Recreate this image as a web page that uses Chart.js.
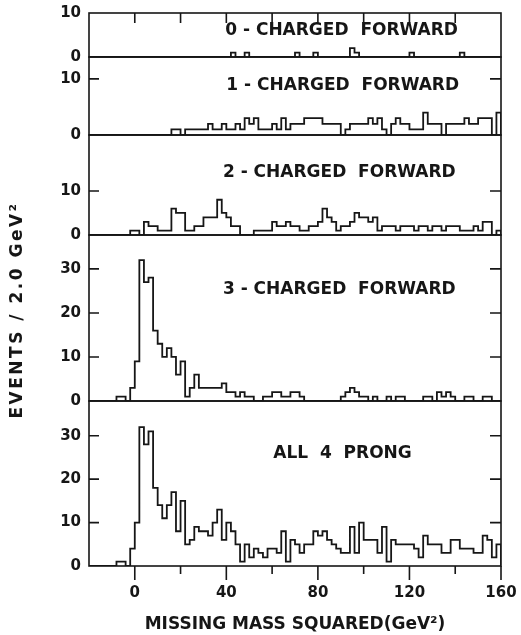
<!DOCTYPE html>
<html>
<head>
<meta charset="utf-8">
<script src="https://cdn.jsdelivr.net/npm/chart.js@4.4.0/dist/chart.umd.min.js"></script>
<style>
html,body{margin:0;padding:0;background:#fff;}
#wrap{width:521px;height:635px;position:relative;}
</style>
</head>
<body>
<div id="wrap"><canvas id="c" width="521" height="635"></canvas></div>
<script>
// ---- data (events per 2.0 GeV^2 bin, bins start at -20 GeV^2) ----
const firstBinEdge = -20;
const binWidth = 2;
const xTickLabels = [0, 40, 80, 120, 160];
const xTitle = "MISSING MASS SQUARED(GeV\u00B2)";
const yTitle = "EVENTS / 2.0 GeV\u00B2";
const panelNames = ["0 - CHARGED  FORWARD", "1 - CHARGED  FORWARD", "2 - CHARGED  FORWARD", "3 - CHARGED  FORWARD", "ALL  4  PRONG"];

const yTicks0 = [0, 10];
const yTicks1 = [0, 10];
const yTicks2 = [0, 10];
const yTicks3 = [0, 10, 20, 30];
const yTicks4 = [0, 10, 20, 30];

const charged0 = [
  0,0,0,0,0,0,0,0,0,0,
  0,0,0,0,0,0,0,0,0,0,
  0,0,0,0,0,0,0,0,0,0,
  0,1,0,0,1,0,0,0,0,0,
  0,0,0,0,0,1,0,0,0,1,
  0,0,0,0,0,0,0,2,1,0,
  0,0,0,0,0,0,0,0,0,0,
  1,0,0,0,0,0,0,0,0,0,
  0,1,0,0,0,0,0,0,0,0
];
const charged1 = [
  0,0,0,0,0,0,0,0,0,0,
  0,0,0,0,0,0,0,0,1,1,
  0,1,1,1,1,1,2,1,1,2,
  1,1,2,1,3,2,3,1,1,1,
  2,1,3,1,2,2,2,3,3,3,
  3,2,2,2,2,0,1,2,2,2,
  2,3,2,3,1,0,2,3,2,2,
  1,1,1,4,2,2,2,0,2,2,
  2,2,3,2,2,3,3,3,0,4
];
const charged2 = [
  0,0,0,0,0,0,0,0,0,1,
  1,0,3,2,2,1,1,1,6,5,
  5,1,1,2,2,4,4,4,8,5,
  4,2,2,0,0,0,1,1,1,1,
  3,2,2,3,2,2,1,1,2,2,
  3,6,4,3,1,2,2,3,5,4,
  4,3,4,1,2,2,2,1,2,2,
  2,1,2,2,1,2,2,1,2,2,
  2,1,1,1,2,1,3,3,0,1
];
const charged3 = [
  0,0,0,0,0,0,1,1,0,3,
  9,32,27,28,16,13,10,12,10,6,
  9,1,3,6,3,3,3,3,3,4,
  2,2,1,2,1,1,0,0,1,1,
  2,2,1,1,2,2,1,0,0,0,
  0,0,0,0,0,1,2,3,2,1,
  1,0,1,0,0,1,0,1,1,0,
  0,0,0,1,1,0,2,1,2,1,
  0,0,1,1,0,0,1,1,0,0
];
const allFourProng = [
  0,0,0,0,0,0,1,1,0,4,
  10,32,28,31,18,14,11,14,17,8,
  15,5,6,9,8,8,7,10,13,6,
  10,8,5,1,5,2,4,3,2,4,
  4,3,8,1,6,5,3,5,5,8,
  7,8,6,5,4,3,3,9,3,10,
  6,6,6,3,9,1,6,5,5,5,
  5,4,2,7,5,5,5,3,3,6,
  6,4,4,4,3,3,7,6,2,5
];

// ---- layout / style ----
const INK = '#161616';
const FONT = 'DejaVu Sans';
const panelSeries = [charged0, charged1, charged2, charged3, allFourProng];
const panelTicks = [yTicks0, yTicks1, yTicks2, yTicks3, yTicks4];
const panelMax = [10, 13.9, 22.7, 37.7, 38];
const panelHeights = [44, 78, 100, 166, 165];
const labelPos = [[39.5, 6.1], [40, 8.75], [38.5, 14.1], [38.5, 25.2], [60.5, 26]];
const xMin = -20, xMax = 160;

function histPoints(counts) {
  const pts = counts.map((c, i) => ({x: firstBinEdge + i * binWidth, y: c}));
  pts.push({x: firstBinEdge + counts.length * binWidth, y: 0});
  return pts;
}

const datasets = panelSeries.map((s, i) => ({
  label: panelNames[i],
  data: histPoints(s),
  yAxisID: 'p' + i,
  borderColor: INK,
  borderWidth: 1.8,
  pointRadius: 0,
  stepped: true,
  fill: false,
  tension: 0
}));

function noPad(s) { s.paddingTop = 0; s.paddingBottom = 0; s.paddingLeft = 0; s.paddingRight = 0; }

const scales = {
  x: {
    type: 'linear', min: xMin, max: xMax, position: 'bottom',
    afterBuildTicks: s => { s.ticks = xTickLabels.map(v => ({value: v})); },
    afterFit: s => { s.height = 69; noPad(s); },
    grid: {display: false, drawTicks: false},
    border: {display: false},
    ticks: {color: INK, font: {family: FONT, size: 15, weight: 'bold'}, padding: 18, maxRotation: 0,
            callback: v => String(v)},
    title: {display: true, text: xTitle, color: INK, font: {family: FONT, size: 17, weight: 'bold'},
            padding: {top: 0, bottom: 0}}
  }
};
// bottom panel first: later-defined stacked axes are placed above
for (let i = 4; i >= 0; i--) {
  const ticksArr = panelTicks[i];
  scales['p' + i] = {
    type: 'linear', position: 'left', stack: 'panels', stackWeight: panelHeights[i],
    min: 0, max: panelMax[i],
    afterBuildTicks: s => { s.ticks = ticksArr.map(v => ({value: v})); },
    afterFit: s => { s.width = 89; noPad(s); },
    grid: {display: false, drawTicks: false},
    border: {display: false},
    ticks: {color: INK, font: {family: FONT, size: 15, weight: 'bold'}, padding: 8,
            callback: v => String(v)}
  };
}

const decor = {
  id: 'decor',
  afterDraw(chart) {
    const ctx = chart.ctx;
    const ca = chart.chartArea;
    const xs = chart.scales.x;
    ctx.save();
    ctx.strokeStyle = INK;
    ctx.fillStyle = INK;
    ctx.lineWidth = 1.6;
    for (let i = 0; i < 5; i++) {
      const s = chart.scales['p' + i];
      ctx.strokeRect(ca.left, s.top, ca.right - ca.left, s.bottom - s.top);
      ctx.beginPath();
      for (const v of panelTicks[i]) {
        if (v <= 0 || v >= panelMax[i]) continue;
        const py = s.getPixelForValue(v);
        ctx.moveTo(ca.left, py); ctx.lineTo(ca.left + 10, py);
        ctx.moveTo(ca.right, py); ctx.lineTo(ca.right - 11, py);
      }
      ctx.stroke();
      ctx.save();
      ctx.font = 'bold 17px "' + FONT + '"';
      ctx.textAlign = 'left';
      ctx.textBaseline = 'middle';
      ctx.fillText(panelNames[i], xs.getPixelForValue(labelPos[i][0]), s.getPixelForValue(labelPos[i][1]));
      ctx.restore();
    }
    const top = chart.scales.p0.top;
    ctx.beginPath();
    for (let v = 0; v < xMax; v += 20) {
      const px = xs.getPixelForValue(v);
      ctx.moveTo(px, top); ctx.lineTo(px, top + 10);
    }
    for (let v = 0; v <= xMax; v += 20) {
      const px = xs.getPixelForValue(v);
      const major = xTickLabels.includes(v);
      ctx.moveTo(px, ca.bottom); ctx.lineTo(px, ca.bottom + (major ? 14 : 8));
    }
    ctx.stroke();
    ctx.save();
    ctx.translate(18, 310);
    ctx.rotate(-Math.PI / 2);
    ctx.font = 'bold 17px "' + FONT + '"';
    if ('letterSpacing' in ctx) ctx.letterSpacing = '2.5px';
    ctx.textAlign = 'center';
    ctx.textBaseline = 'middle';
    ctx.fillText(yTitle, 0, 0);
    ctx.restore();
    ctx.restore();
  }
};

new Chart(document.getElementById('c'), {
  type: 'line',
  data: {datasets},
  options: {
    responsive: false,
    animation: false,
    events: [],
    layout: {padding: {left: 0, right: 20, top: 13, bottom: 0}},
    plugins: {legend: {display: false}, tooltip: {enabled: false}, title: {display: false}},
    scales
  },
  plugins: [decor]
});
</script>
</body>
</html>
